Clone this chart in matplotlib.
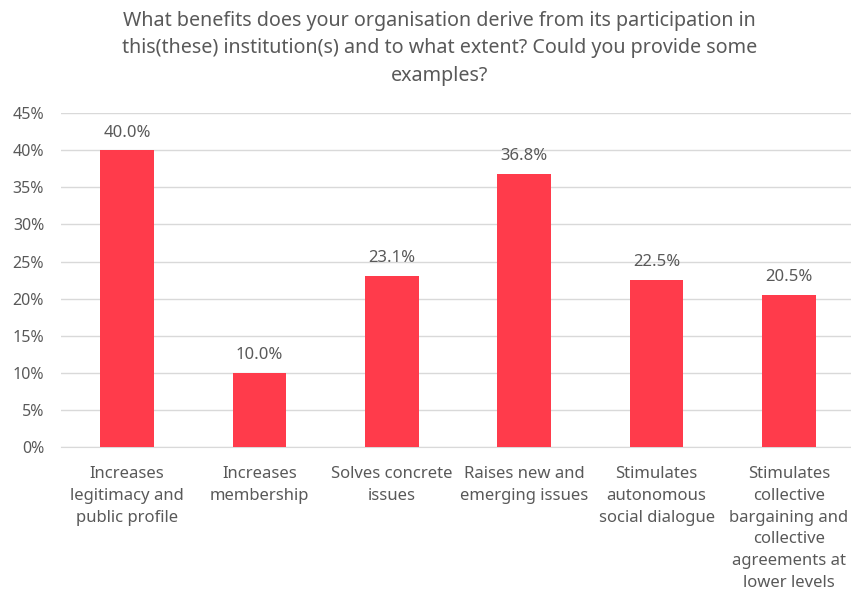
import matplotlib
matplotlib.use("Agg")
import matplotlib.pyplot as plt
import numpy as np

plt.rcParams['font.family'] = ['Noto Sans', 'DejaVu Sans']

categories = [
    "Increases\nlegitimacy and\npublic profile",
    "Increases\nmembership",
    "Solves concrete\nissues",
    "Raises new and\nemerging issues",
    "Stimulates\nautonomous\nsocial dialogue",
    "Stimulates\ncollective\nbargaining and\ncollective\nagreements at\nlower levels",
]
values = [40.0, 10.0, 23.1, 36.8, 22.5, 20.5]
yticks = [0, 5, 10, 15, 20, 25, 30, 35, 40, 45]

title = ("What benefits does your organisation derive from its participation in\n"
         "this(these) institution(s) and to what extent? Could you provide some\n"
         "examples?")

bar_color = "#FF3B4B"
text_color = "#595959"
grid_color = "#D9D9D9"

fig = plt.figure(figsize=(8.51, 5.89), dpi=100)
ax = fig.add_axes([0.0714, 0.241, 0.9335, 0.567])

x = np.arange(len(categories))
ax.bar(x, values, width=0.405, color=bar_color, zorder=3)

for xi, v in zip(x, values):
    ax.text(xi, v + 1.3, f"{v:.1f}%", ha='center', va='bottom',
            fontsize=12, color=text_color)

ax.set_xlim(-0.5, len(categories) - 0.5)
ax.set_ylim(0, 45)
ax.set_yticks(yticks)
ax.set_yticklabels([f"{t}%" for t in yticks], fontsize=11.5)
ax.set_xticks(x)
ax.set_xticklabels(categories, linespacing=1.47, fontsize=12)

ax.grid(axis='y', color=grid_color, linewidth=1, zorder=0)
for s in ['top', 'right', 'left']:
    ax.spines[s].set_visible(False)
ax.spines['bottom'].set_color(grid_color)
ax.tick_params(axis='both', length=0, colors=text_color)
ax.tick_params(axis='x', pad=14)
ax.tick_params(axis='y', pad=12)

fig.text(0.5165, 0.982, title, ha='center', va='top', fontsize=14.2,
         color=text_color, linespacing=1.5)

fig.savefig("out.png", dpi=100)
